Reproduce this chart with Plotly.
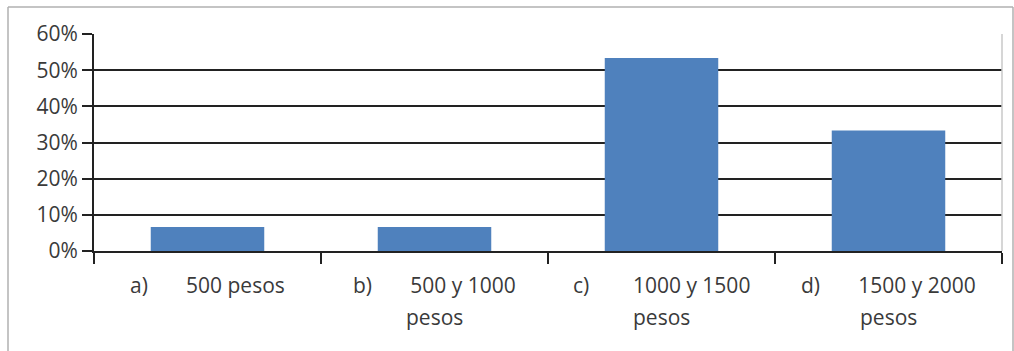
import plotly.graph_objects as go

categories = ["a", "b", "c", "d"]
values = [0.0667, 0.0667, 0.5333, 0.3333]
NB = "\u00a0"
label_line1 = ["a)" + NB * 7 + "500 pesos",
               "b)" + NB * 7 + "500 y 1000",
               "c)" + NB * 8 + "1000 y 1500",
               "d)" + NB * 7 + "1500 y 2000"]
label_line2 = ["", "pesos", "pesos", "pesos"]
y_ticks = [0, 0.1, 0.2, 0.3, 0.4, 0.5, 0.6]

W, H = 1014, 351
L, R, T, B = 94, 12, 34, 100
pw, ph = W - L - R, H - T - B

FONT = "Open Sans"
TXT = "#3a3a3a"

fig = go.Figure()
fig.add_trace(go.Bar(x=categories, y=values, marker=dict(color="#4F81BD", line=dict(width=0)),
                     width=0.5))

annotations = []
for c, l1, l2 in zip(categories, label_line1, label_line2):
    annotations.append(dict(x=c, xref="x", y=0, yref="paper", yshift=-34, text=l1,
                            showarrow=False, font=dict(family=FONT, size=21, color=TXT),
                            xanchor="center", yanchor="middle"))
    if l2:
        annotations.append(dict(x=c, xref="x", y=0, yref="paper", yshift=-66, text=l2,
                                showarrow=False, font=dict(family=FONT, size=21, color=TXT),
                                xanchor="center", yanchor="middle"))

shapes = [
    # outer border
    dict(type="line", xref="paper", yref="paper", x0=(8 - L) / pw, x1=(8 - L) / pw,
         y0=1 + (T - 7) / ph, y1=-(B + 10) / ph, line=dict(color="#b0b0b0", width=1.5)),
    dict(type="line", xref="paper", yref="paper", x0=(8 - L) / pw, x1=(1013 - L) / pw,
         y0=1 + (T - 7) / ph, y1=1 + (T - 7) / ph, line=dict(color="#b0b0b0", width=1.5)),
    dict(type="line", xref="paper", yref="paper", x0=(1013 - L) / pw, x1=(1013 - L) / pw,
         y0=1 + (T - 7) / ph, y1=-(B + 10) / ph, line=dict(color="#b0b0b0", width=1.5)),
    # right plot edge
    dict(type="line", xref="paper", yref="paper", x0=1, x1=1, y0=0, y1=1,
         line=dict(color="#c8c8c8", width=1.5)),
]

fig.update_layout(
    width=W, height=H,
    margin=dict(l=L, r=R, t=T, b=B),
    paper_bgcolor="white", plot_bgcolor="white",
    showlegend=False,
    bargap=0.5,
    annotations=annotations,
    shapes=shapes,
    xaxis=dict(type="category", showgrid=False, showline=True, linecolor="#222", linewidth=2,
               ticks="outside", tickson="boundaries", ticklen=11, tickwidth=2, tickcolor="#222",
               showticklabels=False, range=[-0.5, 3.5]),
    yaxis=dict(range=[0, 0.6], tickvals=y_ticks, tickformat=".0%", showgrid=True,
               gridcolor="#222", gridwidth=2, showline=True, linecolor="#222", linewidth=2,
               ticks="outside", ticklen=10, tickwidth=2, tickcolor="#222",
               tickfont=dict(family=FONT, size=21, color=TXT), zeroline=False),
)

fig.write_html("out.html")
